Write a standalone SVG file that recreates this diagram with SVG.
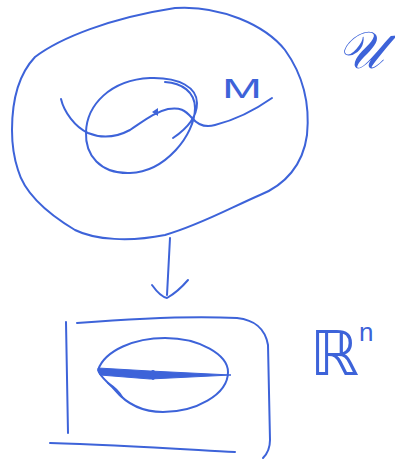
<svg xmlns="http://www.w3.org/2000/svg" width="395" height="463" viewBox="0 0 395 463">
<style>
.s{fill:none;stroke:#3d63d9;stroke-width:2;stroke-linecap:round;stroke-linejoin:round}
.t{fill:#3d63d9;font-family:"Liberation Sans","DejaVu Sans",sans-serif}
</style>
<rect width="395" height="463" fill="#ffffff"/>
<g id="U-region">
<path class="s" d="M 12,130 C 12,100 18,75 35,57 C 60,38 110,18 175,8 C 220,5 265,25 285,50 C 303,75 310,105 307,135 C 303,165 285,185 260,195 C 230,208 200,225 165,235 C 130,242 95,240 75,230 C 50,215 25,195 18,170 C 13,155 12,145 12,130 Z"/>
<text class="t" x="337" y="68" font-size="52" font-style="italic" font-family="DejaVu Sans, sans-serif">𝒰</text>
</g>
<g id="chart-domain">
<path class="s" d="M 165,82 C 182,83 195,92 195,108 C 195,135 165,172 130,173 C 100,174 85,155 86,132 C 87,105 110,80 150,78 C 180,77 197,88 197,103 C 197,118 185,130 173,138"/>
</g>
<g id="M-curve">
<path class="s" d="M 61,99 C 64,112 75,127 88,133 C 100,138 115,138 130,130 C 145,120 155,112 168,109 C 180,107 185,110 192,118 C 198,125 205,128 215,125 C 235,120 255,110 272,98"/>
<path d="M 152,112 L 158,108 L 158,116 Z" fill="#3d63d9"/>
<text class="t" x="222" y="98" font-size="28" textLength="40" lengthAdjust="spacingAndGlyphs">M</text>
</g>
<g id="Rn">
<path class="s" d="M 66,322 L 68,433"/>
<path class="s" d="M 77,323 C 140,318 200,316 237,318 C 255,320 265,328 268,345 L 270,440 C 270,450 266,455 263,458"/>
<path class="s" d="M 50,443 C 120,445 180,449 235,452"/>
<path class="s" d="M 98,370 C 105,350 135,338 165,338 C 200,338 228,355 228,372 C 228,395 195,412 163,412 C 140,412 125,402 115,390 C 108,382 100,377 98,370"/>
<path d="M 98,368 L 150,371 L 231,375 L 150,379 L 100,375 Z" fill="#3d63d9" stroke="#3d63d9" stroke-width="1"/>
<ellipse cx="153" cy="375" rx="3" ry="5" fill="#3d63d9"/>
<path class="s" d="M 108,383 C 114,387 119,391 122,397"/>
<text class="t" x="310" y="375" font-size="62" font-family="DejaVu Sans, sans-serif">ℝ<tspan font-size="26" dy="-34">n</tspan></text>
</g>
<g id="connectors">
<path class="s" d="M 170,238 L 167,295"/>
<path class="s" d="M 152,285 C 157,292 162,297 167,298 C 174,294 182,287 188,280"/>
</g>
</svg>
